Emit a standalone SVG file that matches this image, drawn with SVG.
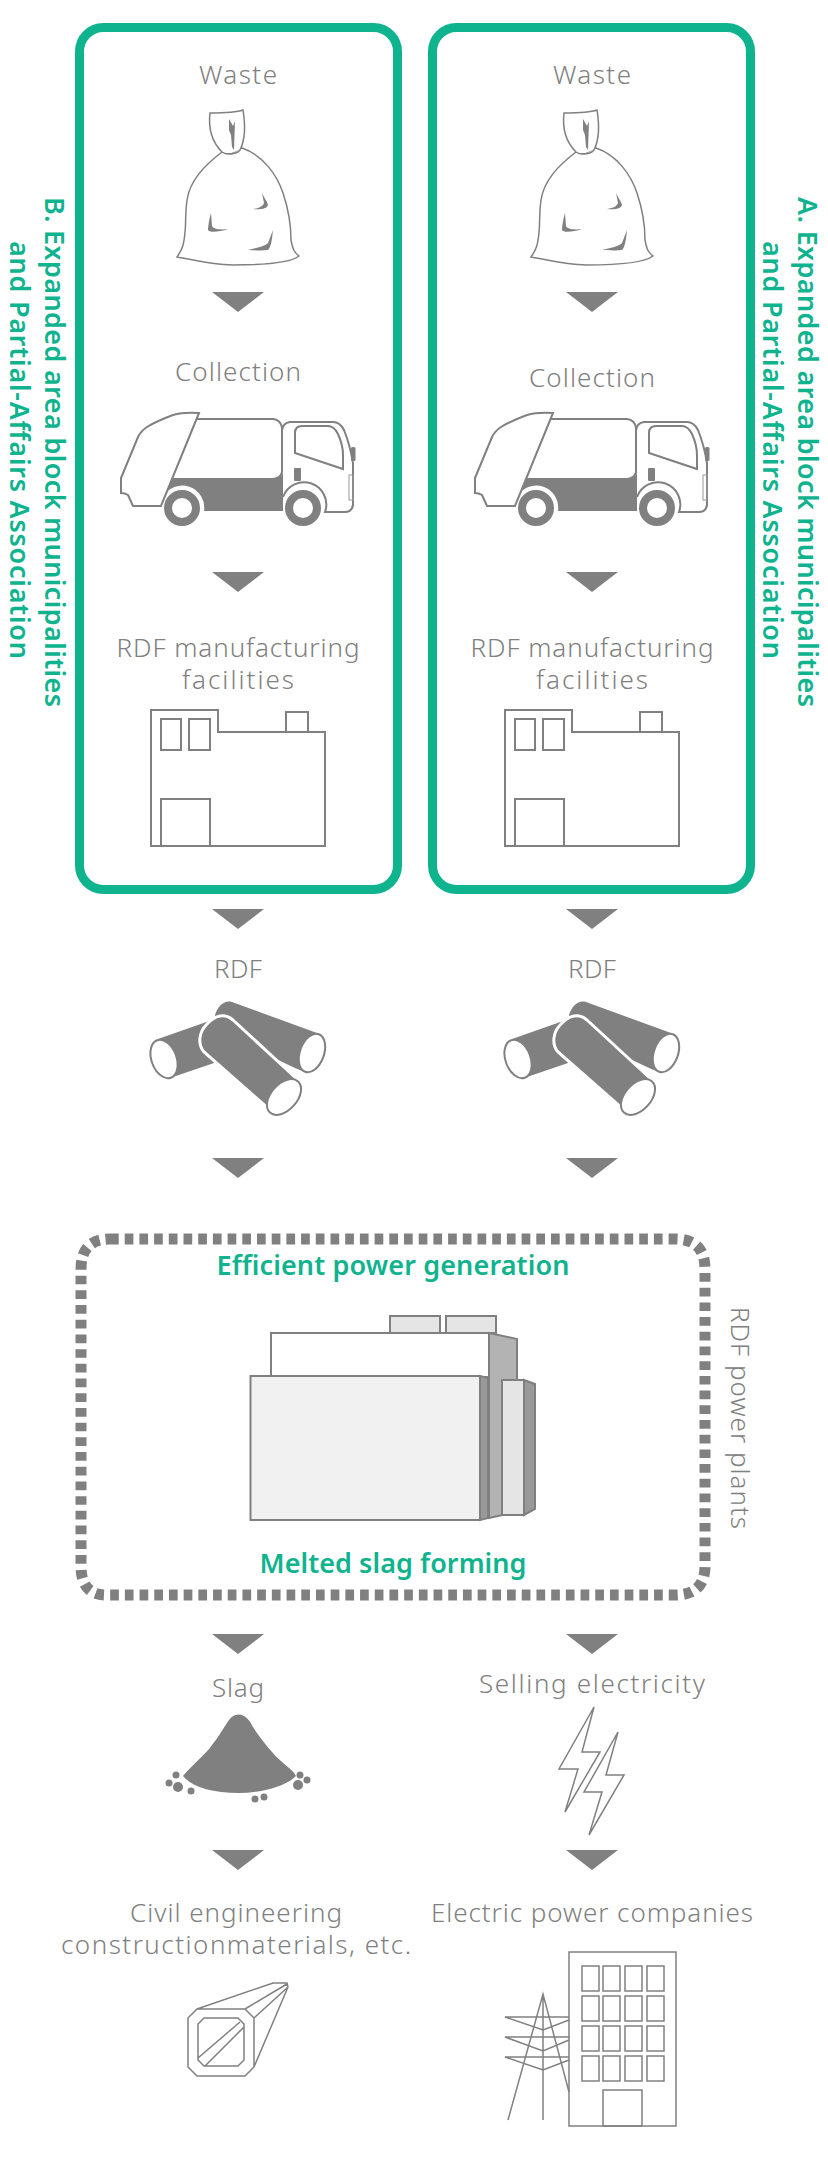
<svg xmlns="http://www.w3.org/2000/svg" xmlns:xlink="http://www.w3.org/1999/xlink" width="828" height="2184" viewBox="0 0 828 2184">
<style>
text{font-family:"Noto Sans","DejaVu Sans",sans-serif}
.l{font-size:26px;font-weight:300;fill:#808080;text-anchor:middle}
.g{font-size:27px;font-weight:600;fill:#0fb38e;text-anchor:middle}
.s{text-anchor:start}
.o{fill:#fff;stroke:#808080;stroke-width:2}
.t{fill:none;stroke:#808080;stroke-width:1.5}
.f{fill:#808080}
.panel{fill:none;stroke:#0fb38e;stroke-width:9}
</style>
<defs>
<polygon id="arr" points="-26,0 26,0 0,20" fill="#808080"/>
<g id="bag">
<path class="o" style="stroke-width:1.500" d="M177,257C197,261 215,265 233,265C258,265 290,263 299,256C294,252 293,250 291,240C291,225 288,208 283,193C277,175 263,155 242,148L222,152C205,165 190,180 187,200C185,215 186,225 185,232C184,245 182,250 177,257Z"/>
<path class="o" style="stroke-width:1.500" d="M210,113C220,113 235,113 243,110C245,122 246,138 240,150C236,155 226,155 222,152C212,142 208,130 210,113Z"/>
<path class="f" d="M229,119L233,126L235,121L234,150L232,147L231,135L229,130Z"/>
<path class="f" d="M226,154C230,155 236,153 239,149C236,152 230,154 226,153Z"/>
<path class="f" d="M211,213C209,220 208,226 208,230C209,233 220,232 228,229C220,230 213,229 212,226Z"/>
<path class="f" d="M262,193C265,199 268,203 268,205C267,209 260,210 253,209C260,208 263,206 264,203Z"/>
<path class="f" d="M273,230C272,240 271,247 268,250C260,251 252,250 248,250C256,248 266,246 268,243Z"/>
</g>
<g id="truck">
<path class="f" d="M172,479H273Q282,478 283,472V511H204A22,22 0 0 0 163,497Z"/>
<path class="t" style="stroke-width:2" d="M196,419H273Q281,420 282,428V472Q281,478 273,479H172"/>
<path class="t" style="stroke-width:2" d="M282,430Q283,423 290,422H333Q340,422 344,430Q350,445 353,463V505Q352,512 345,512H325A22,22 0 0 0 283,497"/>
<path class="t" style="stroke-width:2" d="M295,433Q295,426 302,426H328Q334,426 338,434Q343,445 343,455V469L295,453Z"/>
<path class="o" d="M199,413L161,506H133L128,495Q125,493 121,493V478L138,437Q141,431 147,427C155,422 165,418 173,415Q183,412 199,413Z"/>
<rect class="f" x="294" y="468" width="7" height="13" rx="1"/>
<rect class="f" x="351" y="447" width="4.500" height="14" rx="1.500"/>
<rect x="349" y="475" width="4" height="25" fill="none" stroke="#999" stroke-width="1"/>
<circle cx="182" cy="508" r="14" fill="#fff" stroke="#808080" stroke-width="8"/>
<circle cx="303" cy="508" r="14" fill="#fff" stroke="#808080" stroke-width="8"/>
</g>
<g id="fac">
<path class="o" d="M151,710H218V732H325V846H151Z"/>
<rect class="o" x="161" y="719" width="20" height="31"/>
<rect class="o" x="189" y="719" width="21" height="31"/>
<rect class="o" x="286" y="712" width="22" height="20"/>
<rect class="o" x="161" y="799" width="49" height="47"/>
</g>
<g id="rdf">
<path class="f" d="M215,1015C218,1006 224,1000 232,1002L317,1033L307,1073L295,1068L215,1030Z"/>
<ellipse class="o" cx="312" cy="1053" rx="12" ry="20" transform="rotate(20 312 1053)"/>
<path class="f" d="M158,1039L212,1020L214,1063L170,1078Z"/>
<ellipse class="o" cx="164" cy="1059" rx="12.500" ry="20" transform="rotate(-20 164 1059)"/>
<path class="f" stroke="#fff" stroke-width="3" d="M298,1080L233,1020C225,1013 215,1015 207,1024C198,1033 198,1045 204,1052L270,1110Z"/>
<ellipse class="o" cx="284" cy="1097" rx="13" ry="21" transform="rotate(42 284 1097)"/>
</g>
</defs>

<g id="panel-b"><rect class="panel" x="79.500" y="27.500" width="318" height="862" rx="24"/></g>
<g id="panel-a"><rect class="panel" x="432.500" y="27.500" width="318" height="862" rx="24"/></g>
<g id="label-b"><text class="g s" transform="translate(45,197) rotate(90)" textLength="510">B. Expanded area block municipalities</text><text class="g s" transform="translate(10,241) rotate(90)" textLength="418">and Partial-Affairs Association</text></g>
<g id="label-a"><text class="g s" transform="translate(798,197) rotate(90)" textLength="510">A. Expanded area block municipalities</text><text class="g s" transform="translate(763,241) rotate(90)" textLength="418">and Partial-Affairs Association</text></g>

<g id="col-b">
<text class="l" x="238" y="84" textLength="78">Waste</text><use xlink:href="#bag"/>
<text class="l" x="238" y="381" textLength="126">Collection</text><use xlink:href="#truck"/>
<text class="l" x="238" y="657" textLength="243">RDF manufacturing</text><text class="l" x="238" y="689" textLength="112">facilities</text><use xlink:href="#fac"/>
<text class="l" x="238" y="978" textLength="48">RDF</text><use xlink:href="#rdf"/>
</g>
<g id="col-a">
<text class="l" x="592" y="84" textLength="78">Waste</text><use xlink:href="#bag" x="354"/>
<text class="l" x="592" y="387" textLength="126">Collection</text><use xlink:href="#truck" x="354"/>
<text class="l" x="592" y="657" textLength="243">RDF manufacturing</text><text class="l" x="592" y="689" textLength="112">facilities</text><use xlink:href="#fac" x="354"/>
<text class="l" x="592" y="978" textLength="48">RDF</text><use xlink:href="#rdf" x="354"/>
</g>

<g id="plant">
<path fill="none" stroke="#808080" stroke-width="11" stroke-dasharray="8.700 6" d="M110,1239H675Q705,1239 705,1269V1566Q705,1595 675,1595H106Q81,1595 81,1566V1269Q81,1239 110,1239Z"/>
<text class="g" x="393" y="1275" textLength="353">Efficient power generation</text>
<text class="g" x="393" y="1573" textLength="267">Melted slag forming</text>
<g stroke="#808080" stroke-width="2">
<rect x="390" y="1316" width="50" height="17" fill="#e5e5e5"/>
<rect x="446" y="1316" width="50" height="17" fill="#e5e5e5"/>
<path fill="#b3b3b3" d="M489,1333L517,1339V1400H503V1515L489,1518Z"/>
<rect x="271" y="1333" width="218" height="44" fill="#fff"/>
<path fill="#999" d="M480,1376L488,1378V1518L480,1520Z"/>
<rect x="250.500" y="1376" width="229.500" height="144" fill="#f1f1f1"/>
<path fill="#999" d="M524,1380L535,1384V1509L524,1515Z"/>
<rect x="502" y="1380" width="22" height="135" fill="#e5e5e5"/>
</g>
</g>
<text id="plant-label" class="l s" transform="translate(731,1307) rotate(90)" textLength="222">RDF power plants</text>

<g id="connectors">
<use xlink:href="#arr" x="238" y="292"/><use xlink:href="#arr" x="238" y="572"/><use xlink:href="#arr" x="238" y="909"/><use xlink:href="#arr" x="238" y="1158"/><use xlink:href="#arr" x="238" y="1634"/><use xlink:href="#arr" x="238" y="1850"/>
<use xlink:href="#arr" x="592" y="292"/><use xlink:href="#arr" x="592" y="572"/><use xlink:href="#arr" x="592" y="909"/><use xlink:href="#arr" x="592" y="1158"/><use xlink:href="#arr" x="592" y="1634"/><use xlink:href="#arr" x="592" y="1850"/>
</g>

<g id="slag">
<text class="l" x="238" y="1697" textLength="52">Slag</text>
<path class="f" d="M183,1776C195,1762 205,1755 212,1745C218,1738 222,1730 227,1723C233,1712 245,1710 253,1727C260,1738 266,1745 272,1752C282,1764 293,1769 296,1776C285,1787 260,1793 239,1793C212,1793 192,1787 183,1776Z"/>
<g class="f"><circle cx="176" cy="1775" r="3.500"/><circle cx="169" cy="1783" r="3.500"/><circle cx="178" cy="1787" r="5"/><circle cx="191" cy="1791" r="3.500"/><circle cx="255" cy="1799" r="3.500"/><circle cx="264" cy="1797" r="3.500"/><circle cx="300" cy="1775" r="3.500"/><circle cx="307" cy="1780" r="3.500"/><circle cx="298" cy="1785" r="5"/></g>
</g>
<g id="electricity">
<text class="l" x="592" y="1693" textLength="226">Selling electricity</text>
<path class="t" d="M594,1707L559,1769H578L565,1812L600,1752H582Z"/>
<path class="t" d="M618,1732L584,1792H602L589,1835L624,1775H606Z"/>
</g>
<g id="civil">
<text class="l" x="236" y="1922" textLength="212">Civil engineering</text><text class="l" x="236" y="1954" textLength="350">constructionmaterials, etc.</text>
<path class="t" d="M197,2009H245L254,2018V2067L245,2076H197L188,2067V2018ZM204,2018H238L244,2024V2060L238,2066H204L198,2060V2024ZM198,2058L240,2022M205,2066L244,2027M197,2009L273,1983H287L288,1987L254,2067M245,2009L287,1984M254,2018L288,1987"/>
</g>
<g id="power">
<text class="l" x="592" y="1922" textLength="322">Electric power companies</text>
<path class="t" d="M508,2120L543,1994L569,2092M543,1994V2120M505,2017H569M505,2037H569M505,2057H569M505,2017L543,2030L569,2020M505,2037L543,2051L569,2040M505,2057L543,2070L569,2060"/>
<g class="t"><rect x="569" y="1952" width="107" height="174"/>
<rect x="582" y="1966" width="17" height="25"/><rect x="603" y="1966" width="17" height="25"/><rect x="625" y="1966" width="17" height="25"/><rect x="647" y="1966" width="17" height="25"/>
<rect x="582" y="1996" width="17" height="25"/><rect x="603" y="1996" width="17" height="25"/><rect x="625" y="1996" width="17" height="25"/><rect x="647" y="1996" width="17" height="25"/>
<rect x="582" y="2026" width="17" height="25"/><rect x="603" y="2026" width="17" height="25"/><rect x="625" y="2026" width="17" height="25"/><rect x="647" y="2026" width="17" height="25"/>
<rect x="582" y="2056" width="17" height="25"/><rect x="603" y="2056" width="17" height="25"/><rect x="625" y="2056" width="17" height="25"/><rect x="647" y="2056" width="17" height="25"/>
<rect x="603" y="2090" width="39" height="36"/></g>
</g>
</svg>
